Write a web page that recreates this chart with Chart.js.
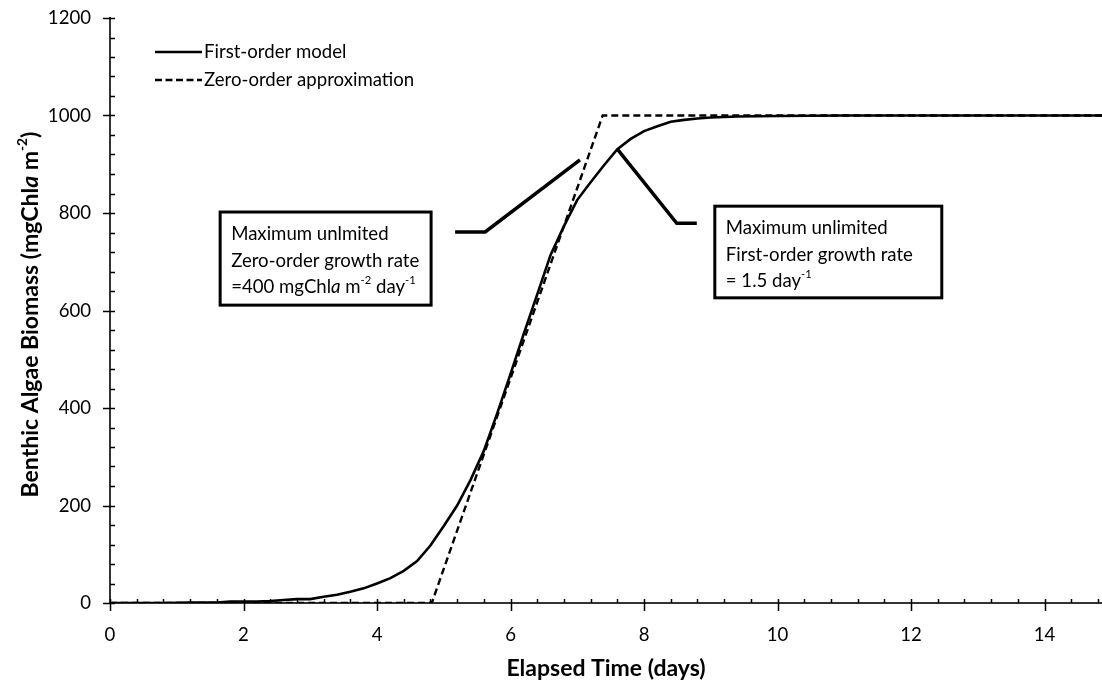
<!DOCTYPE html>
<html>
<head>
<meta charset="utf-8">
<script src="https://cdn.jsdelivr.net/npm/chart.js@4.4.1/dist/chart.umd.min.js"></script>
<style>
  html, body { margin: 0; padding: 0; background: #fff; }
</style>
</head>
<body>
<canvas id="myChart" width="1102" height="685"></canvas>
<script>
// values
const firstTime = [0, 0.4, 0.8, 1.2, 1.6, 1.8, 2.0, 2.2, 2.4, 2.6, 2.8, 3.0, 3.2, 3.4, 3.6, 3.8, 4.0, 4.2, 4.4, 4.6, 4.8, 5.0, 5.2, 5.4, 5.6, 5.8, 6.0, 6.2, 6.4, 6.6, 6.8, 7.0, 7.2, 7.4, 7.6, 7.8, 8.0, 8.2, 8.4, 8.6, 8.8, 9.0, 9.4, 10.0, 11.0, 12.0, 14.86];
const firstBiomass = [0, 0, 0, 1, 1, 3, 3, 3, 4, 6, 8, 8, 13, 17, 23, 30, 40, 51, 66, 86, 118, 158, 200, 252, 312, 389, 470, 553, 633, 714, 773, 827, 863, 898, 931, 952, 968, 978, 987, 991, 994, 996, 998, 999, 1000, 1000, 1000];

const zeroTime = [0, 4.82, 7.38, 14.86];
const zeroBiomass = [0, 0, 1000, 1000];

const xTickValues = [0, 2, 4, 6, 8, 10, 12, 14];
const yTickValues = [0, 200, 400, 600, 800, 1000, 1200];

const seriesNames = ['First-order model', 'Zero-order approximation'];

const FONT = "Lato, 'DejaVu Sans', sans-serif";

// text boxes with leader lines (data units)
const notes = [
  {
    box: [1.65, 802, 4.81, 611],
    lines: [
      [{t: 'Maximum unlmited'}],
      [{t: 'Zero-order growth rate'}],
      [{t: '=400 mgChl'}, {t: 'a', it: true}, {t: ' m'}, {t: '-2', sup: true}, {t: ' day'}, {t: '-1', sup: true}]
    ],
    leader: [[5.17, 761], [5.62, 761], [7.04, 909]]
  },
  {
    box: [9.06, 814, 12.46, 626],
    lines: [
      [{t: 'Maximum unlimited'}],
      [{t: 'First-order growth rate'}],
      [{t: '= 1.5 day'}, {t: '-1', sup: true}]
    ],
    leader: [[7.6, 931], [8.49, 779], [8.79, 779]]
  }
];

const yTitle = [{t: 'Benthic Algae Biomass (mgChl'}, {t: 'a', it: true}, {t: ' m'}, {t: '-2', sup: true}, {t: ')'}];

function runs(ctx, parts, x, y, size, weight, draw) {
  let cx = x;
  parts.forEach(p => {
    const s = p.sup ? size * 0.6 : size;
    ctx.font = (p.it ? 'italic ' : '') + weight + ' ' + s + 'px ' + FONT;
    if (draw) ctx.fillText(p.t, cx, y + (p.sup ? -size * 0.36 : 0));
    cx += ctx.measureText(p.t).width;
  });
  return cx - x;
}

const decor = {
  id: 'decor',
  afterDraw(chart) {
    const {ctx, chartArea, scales: {x, y}} = chart;
    ctx.save();
    ctx.strokeStyle = '#000';
    ctx.fillStyle = '#000';

    // tick marks: major crossing, minor inside
    ctx.lineWidth = 1.5;
    ctx.beginPath();
    for (let v = 0; v <= 14.85; v += 0.4) {
      const px = Math.round(x.getPixelForValue(v)) + 0.5;
      const major = Math.abs(v / 2 - Math.round(v / 2)) < 1e-6;
      ctx.moveTo(px, chartArea.bottom - 4);
      ctx.lineTo(px, chartArea.bottom + (major ? 8 : 0));
    }
    for (let v = 0; v <= 1200; v += 40) {
      const py = Math.round(y.getPixelForValue(v)) + 0.5;
      const major = v % 200 === 0;
      ctx.moveTo(chartArea.left + 5, py);
      ctx.lineTo(chartArea.left - (major ? 7 : 0), py);
    }
    ctx.stroke();

    // legend
    ctx.textBaseline = 'middle';
    ctx.textAlign = 'left';
    const lx = chartArea.left + 45, ly = chartArea.top + 34;
    [[], [7, 3.5]].forEach((dash, i) => {
      const yy = ly + i * 28;
      ctx.lineWidth = 2.5;
      ctx.setLineDash(dash);
      ctx.beginPath();
      ctx.moveTo(lx, yy);
      ctx.lineTo(lx + 47, yy);
      ctx.stroke();
      ctx.setLineDash([]);
      ctx.font = '18.6px ' + FONT;
      ctx.fillText(seriesNames[i], lx + 49, yy);
    });

    // annotation boxes and leaders
    notes.forEach(n => {
      ctx.lineWidth = 3.5;
      ctx.beginPath();
      n.leader.forEach((p, i) => {
        const px = x.getPixelForValue(p[0]), py = y.getPixelForValue(p[1]);
        if (i === 0) ctx.moveTo(px, py); else ctx.lineTo(px, py);
      });
      ctx.stroke();

      const bx0 = x.getPixelForValue(n.box[0]), by0 = y.getPixelForValue(n.box[1]);
      const bx1 = x.getPixelForValue(n.box[2]), by1 = y.getPixelForValue(n.box[3]);
      ctx.fillStyle = '#fff';
      ctx.fillRect(bx0, by0, bx1 - bx0, by1 - by0);
      ctx.lineWidth = 3;
      ctx.strokeRect(bx0, by0, bx1 - bx0, by1 - by0);
      ctx.fillStyle = '#000';
      n.lines.forEach((ln, i) => {
        runs(ctx, ln, bx0 + 11, by0 + 22 + i * 26.5, 18.6, 'normal', true);
      });
    });

    // y axis title
    ctx.save();
    ctx.translate(31, (chartArea.top + chartArea.bottom) / 2 + 4);
    ctx.rotate(-Math.PI / 2);
    const w = runs(ctx, yTitle, 0, 0, 23, 'bold', false);
    runs(ctx, yTitle, -w / 2, 0, 23, 'bold', true);
    ctx.restore();

    ctx.restore();
  }
};

const ctx = document.getElementById('myChart');
const chart = new Chart(ctx, {
  type: 'scatter',
  data: {
    datasets: [{
      label: seriesNames[0],
      data: firstTime.map((t, i) => ({x: t, y: firstBiomass[i]})),
      showLine: true,
      borderColor: '#000',
      borderWidth: 2.6,
      pointRadius: 0,
      tension: 0
    }, {
      label: seriesNames[1],
      data: zeroTime.map((t, i) => ({x: t, y: zeroBiomass[i]})),
      showLine: true,
      borderColor: '#000',
      borderWidth: 2.4,
      borderDash: [7, 4],
      pointRadius: 0
    }]
  },
  options: {
    responsive: false,
    animation: false,
    devicePixelRatio: 1,
    layout: {padding: {top: 18, right: 0, left: 0, bottom: 0}},
    plugins: {legend: {display: false}, tooltip: {enabled: false}},
    scales: {
      x: {
        type: 'linear',
        min: 0,
        max: 14.86,
        afterBuildTicks: s => { s.ticks = xTickValues.map(v => ({value: v})); },
        afterFit: s => { s.height = 82; s.paddingRight = 0; s.paddingLeft = 0; },
        grid: {display: false, drawTicks: false},
        border: {display: true, color: '#333', width: 2},
        ticks: {color: '#000', font: {family: FONT, size: 18.6}, padding: 21, maxRotation: 0, callback: v => v},
        title: {display: true, text: 'Elapsed Time (days)', color: '#000', font: {family: FONT, size: 23, weight: 'bold'}, padding: {top: 0, bottom: 3}}
      },
      y: {
        type: 'linear',
        min: 0,
        max: 1200,
        afterBuildTicks: s => { s.ticks = yTickValues.map(v => ({value: v})); },
        afterFit: s => { s.width = 110; s.paddingTop = 0; s.paddingBottom = 0; },
        grid: {display: false, drawTicks: false},
        border: {display: true, color: '#333', width: 2},
        ticks: {color: '#000', font: {family: FONT, size: 18.6}, padding: 19, callback: v => v}
      }
    }
  },
  plugins: [decor]
});
</script>
</body>
</html>
